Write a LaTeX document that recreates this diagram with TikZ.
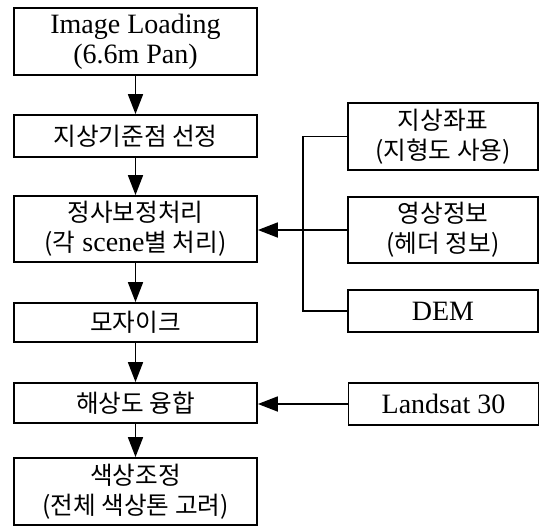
\documentclass[tikz,border=0pt]{standalone}
\usepackage{fontspec}
\setmainfont{Liberation Serif}
\newfontfamily\kr[Scale=0.88]{Noto Sans CJK KR}
\usetikzlibrary{arrows.meta}
\tikzset{
  box/.style={draw, line width=1.8pt, inner sep=0pt, align=center, font=\fontsize{28}{30}\selectfont},
  lbox/.style={box, minimum width=243pt},
  rbox/.style={box, minimum width=190pt},
  arr/.style={line width=1.8pt, -{Triangle[length=20pt,width=15pt]}},
  ln/.style={line width=1.8pt}
}
\begin{document}
\begin{tikzpicture}[x=1pt,y=-1pt]
\useasboundingbox (0,0) rectangle (542,528);
\node[lbox, minimum height=67pt] (b1) at (135.5,41.5) {Image Loading\\(6.6m Pan)};
\node[lbox, minimum height=42pt] (b2) at (135.5,136) {\kr 지상기준점 선정};
\node[lbox, minimum height=66pt] (b3) at (135.5,229) {\kr 정사보정처리\\{\kr (각} scene{\kr 별 처리)}};
\node[lbox, minimum height=39pt] (b4) at (135.5,322.5) {\kr 모자이크};
\node[lbox, minimum height=40pt] (b5) at (135.5,403) {\kr 해상도 융합};
\node[lbox, minimum height=67pt] (b6) at (135.5,491.5) {\kr 색상조정\\\kr (전체 색상톤 고려)};
\node[rbox, minimum height=67pt] (r1) at (443,136.5) {\kr 지상좌표\\\kr (지형도 사용)};
\node[rbox, minimum height=66pt] (r2) at (443,230) {\kr 영상정보\\\kr (헤더 정보)};
\node[rbox, minimum height=42pt] (r3) at (443,311) {DEM};
\node[rbox, minimum height=42pt] (r4) at (443.5,404) {Landsat 30};
\coordinate (j1) at (303,136.5);
\coordinate (j3) at (303,311);
\coordinate (jm) at (303,230);
\draw[arr] (b1) -- (b2);
\draw[arr] (b2) -- (b3);
\draw[arr] (b3) -- (b4);
\draw[arr] (b4) -- (b5);
\draw[arr] (b5) -- (b6);
\draw[ln] (r1.west) -- (j1) -- (j3) -- (r3.west);
\draw[ln] (r2.west) -- (jm);
\draw[arr] (jm) -- (b3.east |- jm);
\draw[arr] (r4) -- (b5.east |- r4);
\end{tikzpicture}
\end{document}
